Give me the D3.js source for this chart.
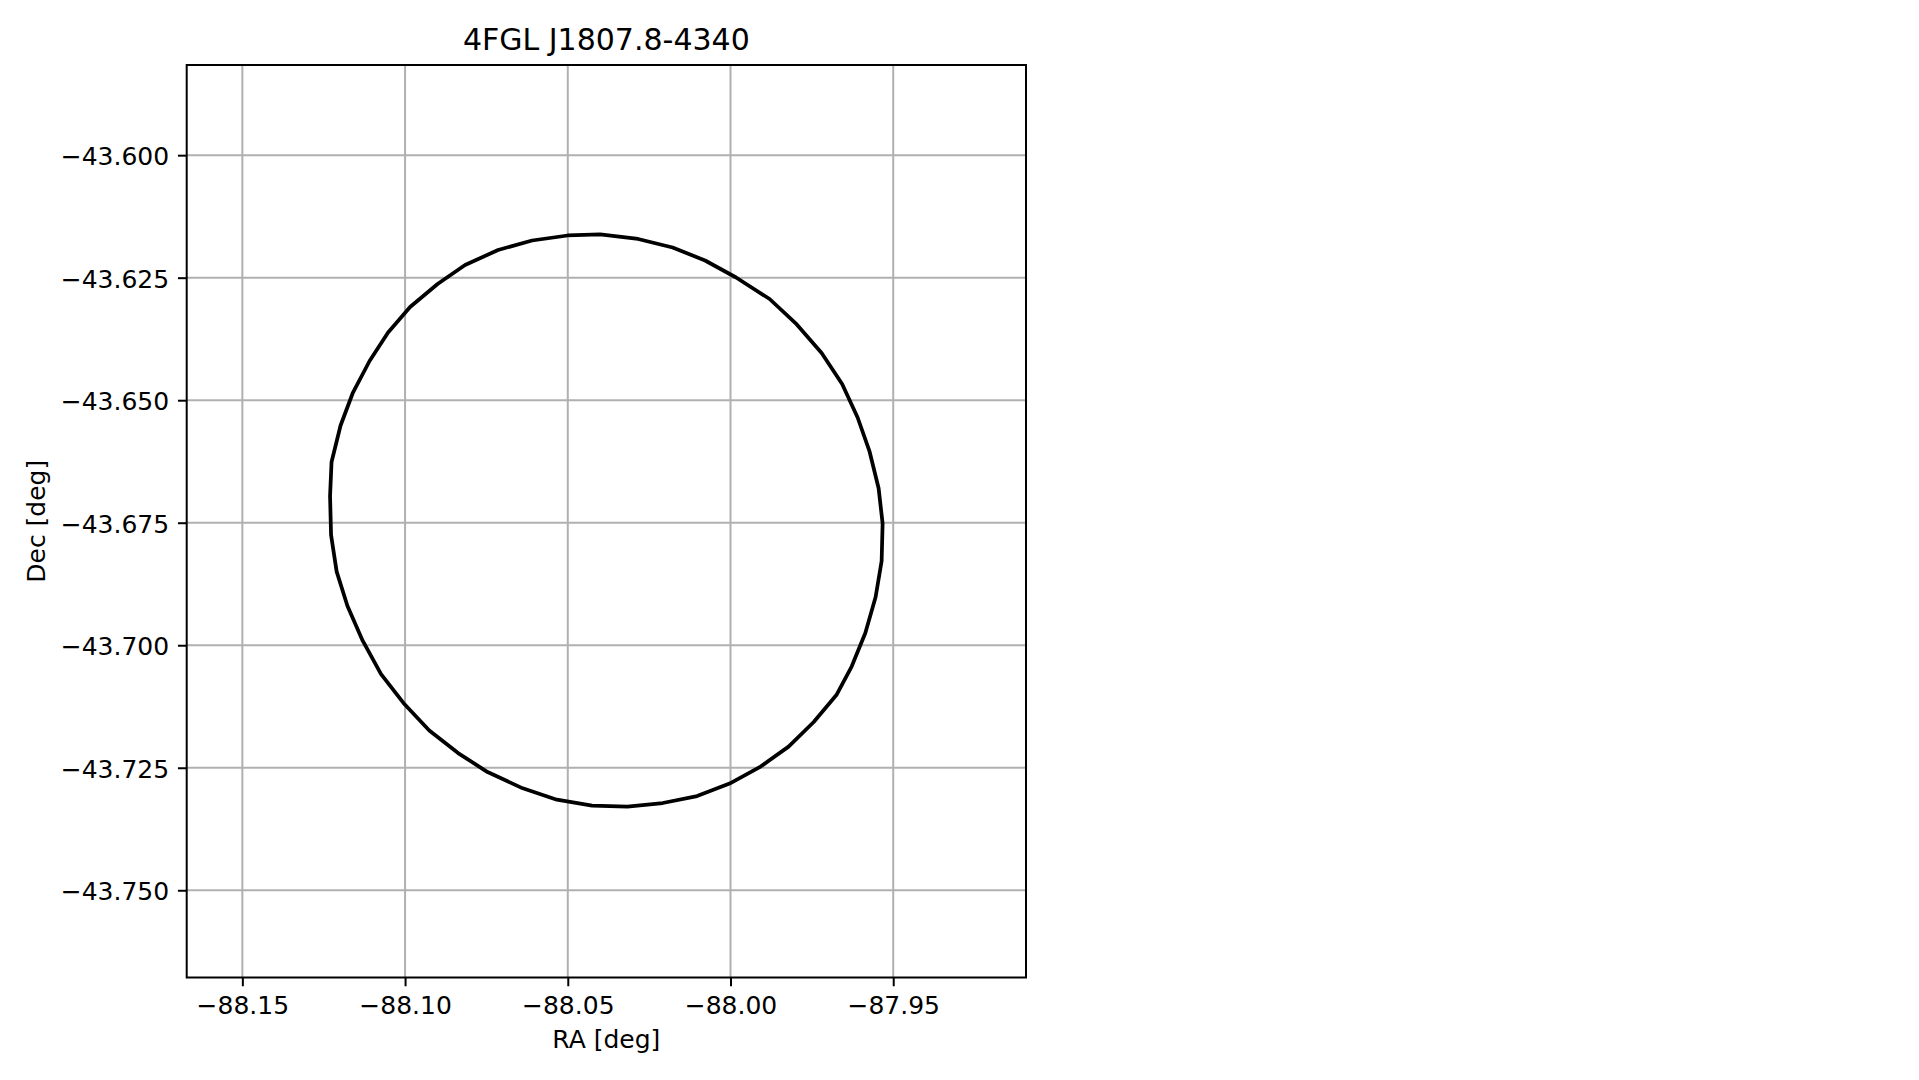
<!DOCTYPE html>
<html>
<head>
<meta charset="utf-8">
<script src="https://cdn.jsdelivr.net/npm/d3@7"></script>
<style>
  html, body { margin: 0; padding: 0; background: #fff; }
  svg { display: block; font-family: "DejaVu Sans", sans-serif; }
</style>
</head>
<body>
<svg id="chart" width="1919" height="1080"></svg>
<script>
// ---- data ----
const title = "4FGL J1807.8-4340";
const xLabel = "RA [deg]";
const yLabel = "Dec [deg]";
const xTicks = [-88.15, -88.10, -88.05, -88.00, -87.95];
const yTicks = [-43.600, -43.625, -43.650, -43.675, -43.700, -43.725, -43.750];
const xDomain = [-88.1671, -87.9092];
const yDomain = [-43.7678, -43.5816];
// contour vertices (RA, Dec)
const ra = [-88.12305, -88.12259, -88.11982, -88.11613, -88.11091, -88.10522, -88.09846, -88.09001,
  -88.08156, -88.07142, -88.06097, -88.05006, -88.04007, -88.02840, -88.01779, -88.00781,
  -87.99828, -87.98798, -87.97963, -87.97200, -87.96570, -87.96094, -87.95725, -87.95449,
  -87.95326, -87.95356, -87.95541, -87.95857, -87.96278, -87.96746, -87.97443, -87.98215,
  -87.99075, -88.00028, -88.01026, -88.02081, -88.03168, -88.04253, -88.05335, -88.06383,
  -88.07465, -88.08371, -88.09256, -88.10015, -88.10738, -88.11303, -88.11770, -88.12102, -88.12274];
const dec = [-43.66955, -43.66261, -43.65516, -43.64863, -43.64200, -43.63618, -43.63098, -43.62629,
  -43.62241, -43.61935, -43.61741, -43.61639, -43.61618, -43.61710, -43.61884, -43.62149,
  -43.62496, -43.62935, -43.63455, -43.64037, -43.64669, -43.65353, -43.66051, -43.66798,
  -43.67516, -43.68282, -43.69016, -43.69751, -43.70435, -43.71016, -43.71567, -43.72069,
  -43.72476, -43.72822, -43.73078, -43.73220, -43.73294, -43.73271, -43.73151, -43.72920,
  -43.72588, -43.72200, -43.71741, -43.71206, -43.70588, -43.69906, -43.69200, -43.68498, -43.67751];

// ---- layout ----
const pL = 186.7, pR = 1026, pT = 65, pB = 977.5;
const svg = d3.select("#chart");
const x = d3.scaleLinear().domain(xDomain).range([pL, pR]);
const y = d3.scaleLinear().domain(yDomain).range([pB, pT]);
const fmtX = d3.format(".2f");
const fmtY = d3.format(".3f");

// grid
const grid = svg.append("g");
grid.selectAll("line.gx").data(xTicks).join("line").attr("class", "gx")
  .attr("x1", d => x(d)).attr("x2", d => x(d))
  .attr("y1", pT).attr("y2", pB)
  .attr("stroke", "#b0b0b0").attr("stroke-width", 2);
grid.selectAll("line.gy").data(yTicks).join("line").attr("class", "gy")
  .attr("y1", d => y(d)).attr("y2", d => y(d))
  .attr("x1", pL).attr("x2", pR)
  .attr("stroke", "#b0b0b0").attr("stroke-width", 2);

// contour
const pts = ra.map((r, i) => [r, dec[i]]);
svg.append("path")
  .datum(pts)
  .attr("d", d3.line().x(d => x(d[0])).y(d => y(d[1])).curve(d3.curveLinearClosed))
  .attr("fill", "none").attr("stroke", "#000").attr("stroke-width", 3.75)
  .attr("stroke-linejoin", "round");

// axes
const xAxis = svg.append("g").attr("transform", `translate(0,${pB})`)
  .call(d3.axisBottom(x).tickValues(xTicks).tickFormat(fmtX).tickSize(8.75).tickPadding(8.75));
const yAxis = svg.append("g").attr("transform", `translate(${pL},0)`)
  .call(d3.axisLeft(y).tickValues(yTicks).tickFormat(fmtY).tickSize(8.75).tickPadding(8.75));
[xAxis, yAxis].forEach(a => {
  a.select(".domain").remove();
  a.selectAll(".tick line").attr("stroke", "#000").attr("stroke-width", 2);
  a.selectAll(".tick text").attr("fill", "#000").style("font-size", "25px")
    .style("font-family", "'DejaVu Sans', sans-serif");
});
xAxis.selectAll(".tick text").attr("dy", null).attr("y", 36);
yAxis.selectAll(".tick text").attr("dy", null).attr("y", 9.5);

// frame
svg.append("rect").attr("x", pL).attr("y", pT)
  .attr("width", pR - pL).attr("height", pB - pT)
  .attr("fill", "none").attr("stroke", "#000").attr("stroke-width", 2);

// labels
svg.append("text").attr("x", (pL + pR) / 2).attr("y", 50)
  .attr("text-anchor", "middle").style("font-size", "30px").attr("fill", "#000").text(title);
svg.append("text").attr("x", (pL + pR) / 2).attr("y", 1048)
  .attr("text-anchor", "middle").style("font-size", "25px").attr("fill", "#000").text(xLabel);
svg.append("text").attr("transform", `translate(45.3,${(pT + pB) / 2}) rotate(-90)`)
  .attr("text-anchor", "middle").style("font-size", "25px").attr("fill", "#000").text(yLabel);
</script>
</body>
</html>
